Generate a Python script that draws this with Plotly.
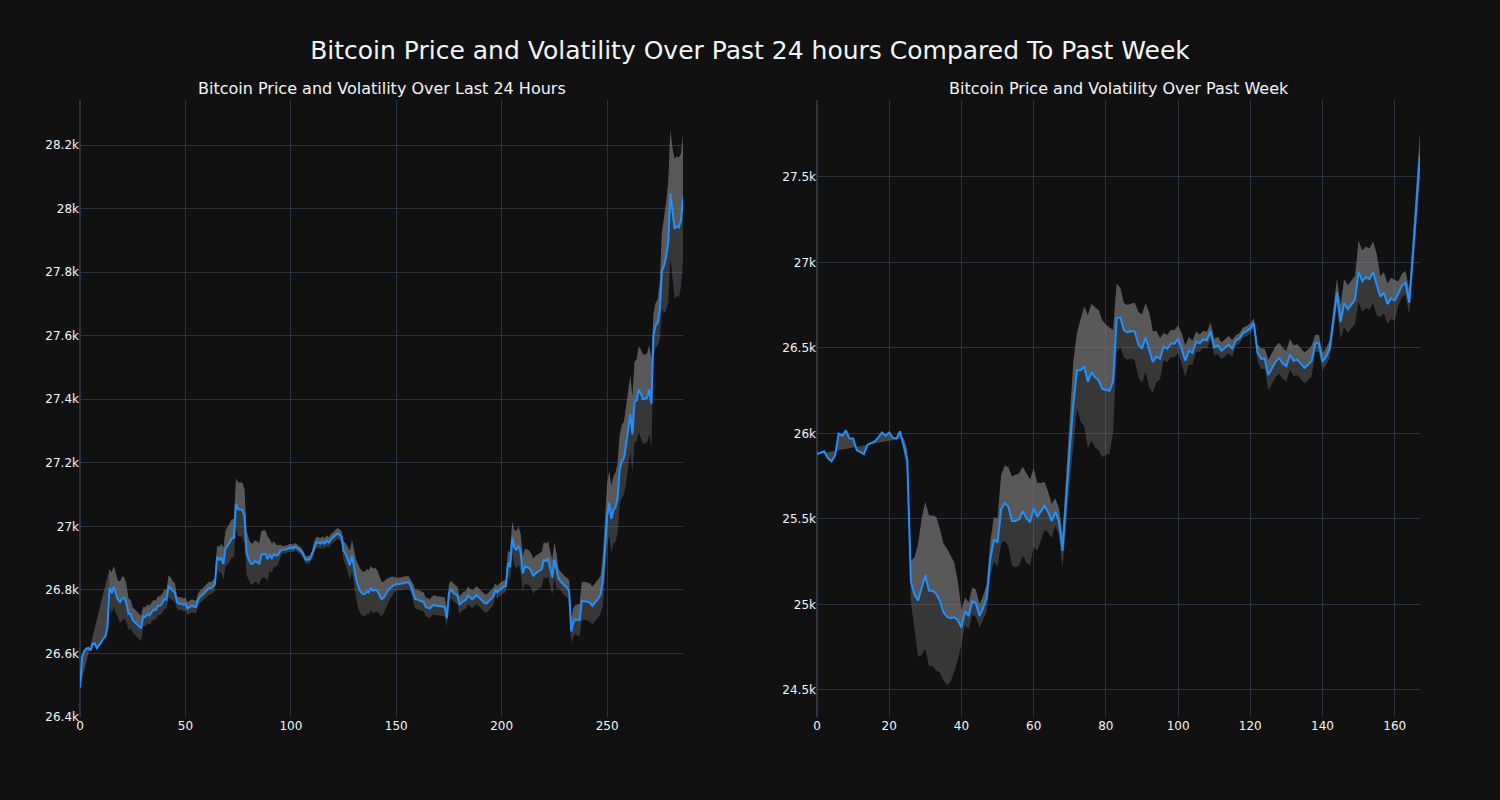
import plotly.graph_objects as go
from plotly.subplots import make_subplots

# ---- Last 24 hours (5-minute steps) ----
price_24h = [
    26493, 26589, 26608, 26615, 26618, 26610, 26630, 26632, 26617, 26625,
    26634, 26647, 26653, 26682, 26807, 26790, 26810, 26788, 26769, 26762,
    26773, 26775, 26758, 26724, 26724, 26705, 26698, 26692, 26685, 26679,
    26717, 26715, 26724, 26720, 26730, 26738, 26737, 26750, 26750, 26758,
    26771, 26769, 26810, 26805, 26797, 26792, 26762, 26756, 26758, 26753,
    26756, 26741, 26746, 26750, 26748, 26746, 26769, 26779, 26784, 26792,
    26797, 26805, 26805, 26810, 26818, 26904, 26895, 26900, 26882, 26930,
    26939, 26951, 26962, 26964, 27071, 27054, 27052, 27052, 27032, 26917,
    26897, 26882, 26882, 26891, 26887, 26882, 26910, 26913, 26913, 26897,
    26910, 26900, 26913, 26908, 26910, 26923, 26926, 26926, 26928, 26931,
    26933, 26930, 26936, 26931, 26926, 26921, 26910, 26895, 26895, 26897,
    26910, 26933, 26949, 26949, 26946, 26951, 26946, 26955, 26949, 26959,
    26964, 26971, 26977, 26975, 26968, 26923, 26913, 26895, 26878, 26908,
    26865, 26833, 26810, 26795, 26788, 26787, 26795, 26792, 26805, 26797,
    26800, 26797, 26784, 26771, 26775, 26788, 26797, 26805, 26812, 26816,
    26818, 26818, 26818, 26820, 26823, 26823, 26823, 26810, 26790, 26771,
    26770, 26768, 26765, 26762, 26746, 26743, 26741, 26750, 26753, 26750,
    26750, 26750, 26748, 26746, 26711, 26790, 26801, 26792, 26787, 26782,
    26753, 26760, 26766, 26768, 26782, 26776, 26771, 26776, 26784, 26778,
    26771, 26762, 26758, 26758, 26765, 26770, 26779, 26801, 26792, 26800,
    26805, 26810, 26812, 26885, 26872, 26964, 26933, 26926, 26939, 26917,
    26852, 26874, 26872, 26869, 26860, 26843, 26852, 26856, 26861, 26865,
    26895, 26891, 26897, 26870, 26839, 26895, 26859, 26835, 26827, 26818,
    26812, 26808, 26795, 26669, 26698, 26707, 26705, 26705, 26766, 26765,
    26765, 26762, 26760, 26750, 26758, 26765, 26775, 26788, 26830, 26930,
    27030, 27075, 27024, 27052, 27060, 27090, 27180, 27205, 27215, 27257,
    27300, 27354, 27289, 27392, 27396, 27431, 27418, 27401, 27401, 27405,
    27431, 27386, 27600, 27633, 27640, 27680, 27805, 27820, 27850, 27894,
    28048, 27980, 27936, 27945, 27941, 27962, 28035,
]
# half-width of the volatility band (None where the rolling window is not yet full)
vol_24h = [None] * 14 + [
    60, 65, 65, 60, 60, 65, 70, 65, 60, 50,
    45, 40, 40, 40, 40, 40, 30, 30, 30, 30,
    30, 30, 30, 30, 30, 30, 30, 30, 35, 35,
    30, 30, 20, 20, 20, 20, 20, 20, 20, 20,
    20, 20, 20, 20, 20, 20, 20, 20, 20, 20,
    20, 35, 40, 45, 50, 55, 60, 60, 60, 60,
    80, 85, 85, 85, 85, 70, 65, 65, 65, 65,
    65, 65, 75, 75, 75, 70, 50, 45, 40, 35,
    30, 20, 12, 12, 12, 12, 12, 12, 12, 12,
    12, 12, 12, 12, 12, 12, 12, 17, 17, 17,
    17, 17, 17, 17, 17, 17, 17, 17, 17, 17,
    17, 30, 35, 40, 45, 50, 55, 60, 70, 70,
    70, 70, 70, 70, 70, 70, 70, 65, 60, 55,
    50, 45, 40, 35, 30, 25, 20, 20, 20, 20,
    20, 20, 20, 20, 30, 30, 30, 30, 30, 30,
    30, 30, 30, 30, 30, 30, 30, 30, 30, 30,
    28, 28, 28, 28, 28, 28, 28, 28, 28, 28,
    28, 28, 28, 28, 28, 28, 28, 28, 28, 28,
    28, 28, 28, 20, 20, 20, 20, 20, 20, 40,
    45, 50, 55, 60, 60, 60, 55, 55, 55, 55,
    55, 55, 55, 55, 55, 55, 55, 55, 55, 55,
    55, 55, 55, 30, 30, 30, 30, 30, 35, 40,
    45, 45, 50, 50, 60, 60, 60, 60, 60, 60,
    60, 60, 60, 60, 80, 90, 100, 100, 105, 105,
    110, 110, 110, 115, 115, 120, 120, 120, 120, 125,
    130, 135, 140, 140, 140, 140, 140, 140, 70, 70,
    75, 90, 120, 150, 170, 190, 200, 210, 220, 220,
    220, 210, 200,
]

# ---- Past week (hourly steps) ----
price_week = [
    25879, 25887, 25896, 25856, 25837, 25870, 25999, 25987, 26018, 25970,
    25970, 25903, 25891, 25879, 25934, 25944, 25953, 25977, 26006, 25987,
    26006, 25975, 25970, 26013, 25934, 25844, 25135, 25056, 25023, 25104,
    25171, 25080, 25080, 25063, 25023, 24956, 24927, 24920, 24925, 24908,
    24865, 24961, 24932, 25020, 25008, 24932, 24980, 25039, 25266, 25381,
    25362, 25557, 25593, 25572, 25488, 25488, 25498, 25545, 25505, 25481,
    25564, 25512, 25541, 25576, 25541, 25488, 25541, 25486, 25314, 25624,
    25910, 26173, 26369, 26369, 26393, 26302, 26357, 26328, 26311, 26261,
    26257, 26250, 26305, 26675, 26679, 26603, 26591, 26599, 26596, 26520,
    26496, 26561, 26489, 26418, 26449, 26437, 26508, 26496, 26525, 26525,
    26551, 26496, 26425, 26484, 26472, 26537, 26527, 26551, 26544, 26599,
    26503, 26515, 26484, 26501, 26520, 26496, 26544, 26556, 26589, 26599,
    26615, 26644, 26472, 26437, 26437, 26341, 26382, 26420, 26441, 26408,
    26394, 26461, 26425, 26432, 26408, 26384, 26401, 26425, 26527, 26527,
    26420, 26449, 26496, 26651, 26823, 26651, 26763, 26727, 26758, 26782,
    26947, 26890, 26914, 26902, 26943, 26871, 26799, 26823, 26758, 26790,
    26777, 26818, 26866, 26880, 26765, 27032, 27318, 27628,
]
vol_week = [None] * 24 + [
    40, 60, 120, 220, 330, 400, 430, 440, 440, 450,
    420, 400, 400, 370, 320, 230, 100, 80, 80, 80,
    80, 70, 70, 80, 100, 130, 140, 200, 220, 230,
    260, 270, 270, 260, 260, 250, 230, 200, 170, 140,
    120, 100, 80, 80, 100, 150, 200, 250, 220, 300,
    350, 390, 400, 410, 410, 400, 380, 370, 300, 200,
    170, 160, 160, 160, 170, 190, 200, 200, 220, 180,
    150, 120, 80, 80, 80, 80, 80, 90, 90, 80,
    70, 60, 50, 50, 50, 50, 50, 50, 50, 50,
    50, 50, 30, 30, 30, 30, 30, 30, 50, 60,
    60, 90, 90, 90, 90, 90, 90, 90, 90, 90,
    90, 90, 90, 90, 50, 50, 50, 50, 50, 70,
    80, 100, 140, 140, 140, 140, 180, 180, 180, 180,
    180, 180, 120, 120, 120, 120, 120, 70, 70, 70,
    70, 100, 120, 130,
]

LINE_COLOR = "dodgerblue"
UPPER_FILL = "rgba(128,128,128,0.45)"
LOWER_FILL = "rgba(128,128,128,0.34)"

fig = make_subplots(
    rows=1, cols=2, horizontal_spacing=0.1,
    subplot_titles=("Bitcoin Price and Volatility Over Last 24 Hours",
                    "Bitcoin Price and Volatility Over Past Week"),
)


def add_panel(price, vol, col):
    x = list(range(len(price)))
    bx = [i for i, v in zip(x, vol) if v is not None]
    upper = [price[i] + vol[i] for i in bx]
    lower = [price[i] - vol[i] for i in bx]
    fig.add_trace(go.Scatter(x=x, y=price, mode="lines", line=dict(width=0),
                             hoverinfo="skip", showlegend=False), row=1, col=col)
    fig.add_trace(go.Scatter(x=bx, y=upper, mode="lines", line=dict(width=0),
                             fill="tonexty", fillcolor=UPPER_FILL,
                             showlegend=False), row=1, col=col)
    fig.add_trace(go.Scatter(x=bx, y=lower, mode="lines", line=dict(width=0),
                             fill="tonexty", fillcolor=LOWER_FILL,
                             showlegend=False), row=1, col=col)
    fig.add_trace(go.Scatter(x=x, y=price, mode="lines",
                             line=dict(color=LINE_COLOR, width=2),
                             showlegend=False), row=1, col=col)


add_panel(price_24h, vol_24h, 1)
add_panel(price_week, vol_week, 2)

fig.update_layout(
    template="plotly_dark",
    width=1500, height=800,
    font=dict(family="DejaVu Sans"),
    margin=dict(l=80, r=80, t=100, b=83),
    title=dict(text="Bitcoin Price and Volatility Over Past 24 hours Compared To Past Week",
               x=0.5, xanchor="center", y=0.9375, yanchor="middle",
               font=dict(size=25)),
    showlegend=False,
)
fig.update_annotations(font=dict(size=16))
fig.update_xaxes(range=[0, len(price_24h) - 1], dtick=50, row=1, col=1)
fig.update_xaxes(range=[0, len(price_week) - 1], dtick=20, row=1, col=2)
fig.update_yaxes(range=[26400, 28342], dtick=200, row=1, col=1)
fig.update_yaxes(range=[24342, 27950], dtick=500, row=1, col=2)

fig.write_html("out.html")
